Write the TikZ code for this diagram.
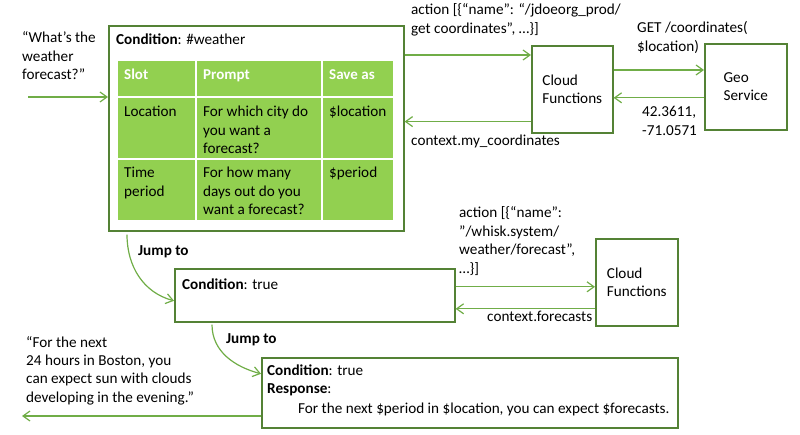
\documentclass[tikz,border=0pt]{standalone}
\usepackage{fontspec}
\setmainfont{Carlito}
\usetikzlibrary{arrows.meta}
\definecolor{boxgreen}{RGB}{84,130,53}
\definecolor{flowgreen}{RGB}{112,173,71}
\definecolor{slotgreen}{RGB}{146,208,80}
\tikzset{
	box/.style={draw=boxgreen, line width=1.6pt, anchor=north west, inner sep=0pt, align=left},
	flow/.style={draw=flowgreen, line width=1.2pt, -{Straight Barb[length=7pt,width=10pt]}},
	txt/.style={anchor=base west, inner sep=0pt, align=left},
	head/.style={txt, text=white, font=\fontsize{15}{18.4}\selectfont\bfseries},
}
\begin{document}
\begin{tikzpicture}[x=1pt, y=-1pt, font=\fontsize{15.2}{18.4}\selectfont]
	\useasboundingbox (0,0) rectangle (800,435);
	% boxes
	\node[box, minimum width=295pt, minimum height=205pt] (weather) at (108,25) {};
	\node[box, minimum width=81pt, minimum height=87pt] (cfa) at (531,45) {Cloud\\Functions};
	\node[box, minimum width=82pt, minimum height=86pt] (geo) at (704,43) {Geo\\Service};
	\node[box, minimum width=280pt, minimum height=53pt] (forecast) at (174,268) {};
	\node[box, minimum width=82pt, minimum height=87pt] (cfb) at (595,238) {Cloud\\Functions};
	\node[box, minimum width=416pt, minimum height=70pt] (reply) at (261,357) {};
	% slot table (multi-line texts sit on their last baseline)
	\fill[slotgreen] (118,61) rectangle (393,220);
	\foreach \x in {196,322}
		\draw[white, line width=1.5pt] (\x,61) -- (\x,220);
	\foreach \y in {97,159}
		\draw[white, line width=1.5pt] (118,\y) -- (393,\y);
	\node[head] (hslot) at (124,80) {Slot};
	\node[head] (hprompt) at (203,80) {Prompt};
	\node[head] (hsave) at (329,80) {Save as};
	\node[txt] (locslot) at (124,117) {Location};
	\node[txt] (locprompt) at (203,153.8) {For which city do\\you want a\\forecast?};
	\node[txt] (locsave) at (329,117) {\$location};
	\node[txt] (perslot) at (124,196.4) {Time\\period};
	\node[txt] (perprompt) at (203,214.8) {For how many\\days out do you\\want a forecast?};
	\node[txt] (persave) at (329,178) {\$period};
	% texts
	\node[txt] (ask) at (22,79.8) {“What’s the\\weather\\forecast?”};
	\node[txt] (condweather) at (116,45) {\textbf{Condition}: \#weather};
	\node[txt] (actiona) at (411,33.4) {action [\{“name”: “/jdoeorg\_prod/\\get coordinates”, …\}]};
	\node[txt] (ctxa) at (411,146) {context.my\_coordinates};
	\node[txt] (get) at (637,51.4) {GET /coordinates(\\\$location)};
	\node[txt] (latlon) at (642,135.4) {42.3611,\\-71.0571};
	\node[txt] (jumpa) at (138,256) {\textbf{Jump to}};
	\node[txt] (condtrue) at (182,290) {\textbf{Condition}: true};
	\node[txt] (actionb) at (459,273.2) {action [\{“name”:\\”/whisk.system/\\weather/forecast”,\\…\}]};
	\node[txt] (ctxb) at (487,322) {context.forecasts};
	\node[txt] (jumpb) at (226,344) {\textbf{Jump to}};
	\node[txt] (condresp) at (267,393.4) {\textbf{Condition}: true\\\textbf{Response}:};
	\node[txt] (template) at (298,413) {For the next \$period in \$location, you can expect \$forecasts.};
	\node[txt] (answer) at (26,402.2) {“For the next\\24 hours in Boston, you\\can expect sun with clouds\\developing in the evening.”};
	% connectors
	\coordinate (in) at (28,97);
	\coordinate (out) at (22,416);
	\draw[flow] (in) -- (in -| weather.west);
	\draw[flow] ([yshift=-10pt]cfa.north west -| weather.east) -- ([yshift=-10pt]cfa.north west);
	\draw[flow] ([yshift=12pt]cfa.south west) -- ([yshift=12pt]cfa.south west -| weather.east);
	\draw[flow] ([yshift=-25pt]cfa.north east) -- ([yshift=-25pt]cfa.north east -| geo.west);
	\draw[flow] ([yshift=-11pt]geo.west) -- ([yshift=-11pt]geo.west -| cfa.east);
	\draw[flow] ([yshift=8.5pt]forecast.east) -- ([yshift=8.5pt]forecast.east -| cfb.west);
	\draw[flow] ([yshift=-13.5pt]forecast.east -| cfb.west) -- ([yshift=-13.5pt]forecast.east);
	\draw[flow] (out -| reply.west) -- (out);
	\draw[flow] ([xshift=19pt,yshift=-3pt]weather.south west) to[out=-90, in=165] ([yshift=-5.5pt]forecast.west);
	\draw[flow] ([xshift=38pt,yshift=-2pt]forecast.south west) to[out=-90, in=165] ([yshift=19pt]reply.west);
\end{tikzpicture}
\end{document}
